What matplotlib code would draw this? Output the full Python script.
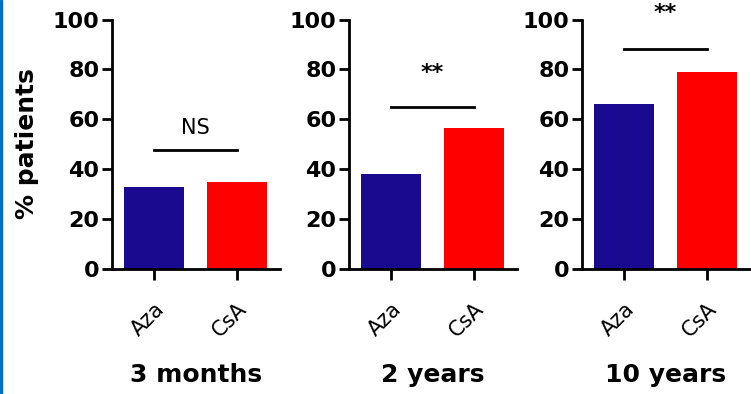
import matplotlib
matplotlib.use("Agg")
import matplotlib.pyplot as plt
from matplotlib.patches import Rectangle

# datos
groups = ["Aza", "CsA"]
periods = ["3 months", "2 years", "10 years"]
aza_vals = [32.6, 37.9, 66.1]
csa_vals = [34.9, 56.6, 78.8]
sig_labels = ["NS", "**", "**"]
sig_line_y = [47.4, 64.7, 88.2]
sig_text_y = [56.5, 78.5, 102.5]

bar_colors = ["#1a0a8f", "#ff0000"]

fig = plt.figure(figsize=(7.51, 3.94), dpi=100)
fig.patches.append(Rectangle((0, 0), 0.003, 1, transform=fig.transFigure,
                             color="#0070c0", zorder=10))

lefts = [0.1491, 0.4647, 0.7750]
for i in range(3):
    ax = fig.add_axes([lefts[i], 0.3185, 0.2237, 0.632])
    vals = [aza_vals[i], csa_vals[i]]
    ax.bar([0, 1], vals, width=0.72, color=bar_colors)
    ax.set_xlim(-0.506, 1.52)
    ax.set_ylim(0, 100)
    ax.set_yticks([0, 20, 40, 60, 80, 100])
    ax.set_xticks([0, 1])
    ax.set_xticklabels(groups, rotation=45, ha="right", rotation_mode="anchor",
                       fontsize=15)
    for lab in ax.get_yticklabels():
        lab.set_fontweight("bold")
        lab.set_fontsize(16)
    ax.tick_params(axis="y", length=7, width=2, pad=2)
    ax.tick_params(axis="x", length=8, width=2, pad=14)
    for s in ["top", "right"]:
        ax.spines[s].set_visible(False)
    for s in ["left", "bottom"]:
        ax.spines[s].set_linewidth(2)
    ax.plot([0, 1], [sig_line_y[i], sig_line_y[i]], color="black", lw=2,
            clip_on=False)
    if sig_labels[i] == "NS":
        ax.text(0.5, sig_text_y[i], "NS", ha="center", va="center", fontsize=15,
                clip_on=False)
    else:
        ax.text(0.5, sig_text_y[i], "**", ha="center", va="center", fontsize=16,
                fontweight="bold", clip_on=False)
    ax.set_xlabel(periods[i], fontsize=18, fontweight="bold", labelpad=16)
    if i == 0:
        ax.set_ylabel("% patients", fontsize=18, fontweight="bold", labelpad=10)

fig.savefig("out.png", dpi=100)
